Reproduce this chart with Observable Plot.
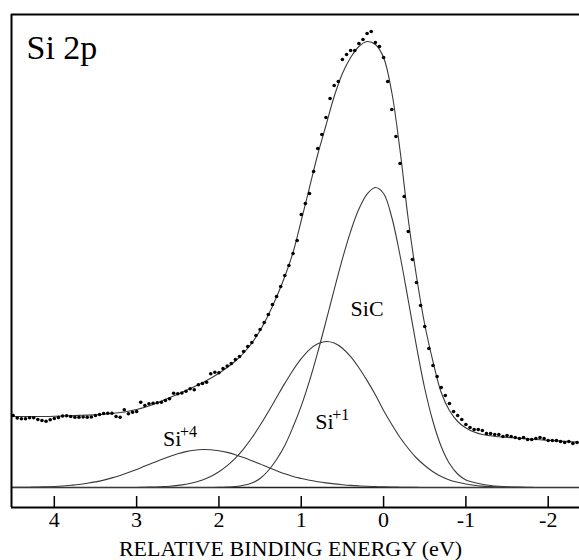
<!DOCTYPE html>
<html><head><meta charset="utf-8">
<script src="https://cdn.jsdelivr.net/npm/d3@7"></script>
<script src="https://cdn.jsdelivr.net/npm/@observablehq/plot@0.6"></script>
<style>
body{margin:0;background:#fff}
#chart svg, #chart svg text { font-family: "Liberation Serif", "Times New Roman", Tinos, "DejaVu Serif", "Noto Serif", Times, serif !important; }
</style>
</head><body><div id="chart"></div>
<script>
// Relative binding energy grid (eV) for the fitted curves
const energy = [4.5,4.4,4.3,4.2,4.1,4.0,3.9,3.8,3.7,3.6,
  3.5,3.4,3.3,3.2,3.1,3.0,2.9,2.8,2.7,2.6,
  2.5,2.4,2.3,2.2,2.1,2.0,1.9,1.8,1.7,1.6,
  1.5,1.4,1.3,1.2,1.1,1.0,0.9,0.8,0.7,0.6,
  0.5,0.4,0.3,0.2,0.1,0.0,-0.1,-0.2,-0.3,-0.4,
  -0.5,-0.6,-0.7,-0.8,-0.9,-1.0,-1.1,-1.2,-1.3,-1.4,
  -1.5,-1.6,-1.7,-1.8,-1.9,-2.0,-2.1,-2.2,-2.3,-2.4];
// Fit envelope (arb. units)
const envelope = [71,71,71,71,71,71.2,71.5,71.8,72.1,72.4,
  72.8,73.3,74,75,76.3,78,80.2,83,86.3,89.8,
  93.3,97,100.8,104.8,109.3,114.3,120,126.5,134.5,144.5,
  157,172.5,190.5,211,235,267,300,333,362,391,
  414,430,441,446,443,430,395,337,268,211,
  163,126,95,77,66,59.5,55.5,53,51.7,50.8,
  50.1,49.5,48.9,48.3,47.7,47.1,46.6,46.1,45.6,45.2];
// Component Si+4
const si4 = [0.1,0.2,0.3,0.4,0.7,1.0,1.5,2.2,3.0,4.2,
  5.6,7.4,9.6,12.1,14.9,18.0,21.4,24.7,28.0,31.1,
  33.8,35.9,37.3,38.0,37.8,36.8,35.1,32.8,29.9,26.7,
  23.4,20.0,16.8,13.7,11.0,9.0,7.2,5.8,4.6,3.6,
  2.8,2.1,1.6,1.2,0.9,0.6,0.4,0.3,0.2,0.1,
  0,0,0,0,0,0,0,0,0,0,
  0,0,0,0,0,0,0,0,0,0];
// Component Si+1
const si1 = [0,0,0,0,0,0,0,0,0,0,
  0,0,0,0,0,0,0.3,0.4,0.8,1.3,
  2.1,3.3,5.0,7.5,11.0,15.7,21.8,29.4,38.7,49.7,
  62.2,75.8,90.0,104.1,117.3,128.8,137.9,143.7,146,144.5,
  139.3,130.9,119.8,106.9,92.8,77,63,50,39,29.5,
  22,15.8,11,7.6,5.2,3.5,2.2,1.4,0.9,0.5,
  0.3,0.2,0.1,0,0,0,0,0,0,0];
// Component SiC
const sic = [0,0,0,0,0,0,0,0,0,0,
  0,0,0,0,0,0,0,0,0,0,
  0,0,0,0,0,0.2,0.5,1.0,2.2,4.5,
  9,17,28,42,60.5,81.6,106.6,135.1,166.1,197.9,
  228.7,256.2,278.5,293.4,300,294,270,232,187,141,
  99,66,41,24,13.5,7.5,5.0,3.3,2.0,1.2,
  0.7,0.4,0.2,0.1,0,0,0,0,0,0];
// Measured data points [energy, intensity]
const measured = [[4.50,72],[4.45,69.5],[4.40,68.7],[4.35,68.7],[4.30,69.7],[4.25,69.7],[4.20,68],[4.15,67],[4.10,66.3],[4.05,67.7],
  [4.00,69],[3.95,70],[3.90,71.5],[3.85,71.8],[3.80,71],[3.75,70.3],[3.70,70.3],[3.65,70.5],[3.60,70.3],[3.55,70.5],
  [3.50,72],[3.45,73],[3.40,74],[3.35,74.3],[3.30,74.3],[3.25,71],[3.20,70.3],[3.15,77.7],[3.10,73.7],[3.05,75.3],
  [3.00,76],[2.95,85.3],[2.90,82],[2.85,83.7],[2.80,84.3],[2.75,84.7],[2.70,85.3],[2.65,87],[2.60,88.7],[2.55,94.3],
  [2.50,93.7],[2.45,94.5],[2.40,96.3],[2.35,98.7],[2.30,97.7],[2.25,102.7],[2.20,104],[2.15,105.3],[2.10,113.7],[2.05,115.3],
  [2.00,114.7],[1.95,119],[1.90,121.5],[1.85,124],[1.80,128],[1.75,131],[1.70,136],[1.65,141],[1.60,145],[1.55,152],
  [1.50,158],[1.45,165],[1.40,173],[1.35,183],[1.30,191],[1.25,201],[1.20,212],[1.15,222],[1.10,234],[1.05,247],
  [1.00,273],[0.95,284],[0.90,294],[0.85,316],[0.80,339],[0.75,353],[0.70,370],[0.65,389],[0.60,402],[0.55,406],
  [0.50,428],[0.45,433],[0.40,437],[0.35,437],[0.30,444],[0.25,448],[0.20,454],[0.15,456],[0.10,445],[0.05,441],
  [0.00,430],[-0.05,406],[-0.10,378],[-0.15,351],[-0.20,324],[-0.25,291],[-0.30,256],[-0.35,228],[-0.40,205],[-0.45,182],
  [-0.50,161],[-0.55,139],[-0.60,122],[-0.65,111],[-0.70,100],[-0.75,92],[-0.80,84],[-0.85,76],[-0.90,72],[-0.95,68],
  [-1.00,63],[-1.05,60],[-1.10,58],[-1.15,58],[-1.20,57],[-1.25,54],[-1.30,54],[-1.35,53],[-1.40,53],[-1.45,51],
  [-1.50,52],[-1.55,51],[-1.60,50],[-1.65,49],[-1.70,50],[-1.75,48],[-1.80,48],[-1.85,49],[-1.90,50],[-1.95,49],
  [-2.00,47],[-2.05,47],[-2.10,47],[-2.15,46],[-2.20,45],[-2.25,46],[-2.30,44],[-2.35,45],[-2.40,46]];
const xTicks = [4,3,2,1,0,-1,-2];
const panelTitle = "Si 2p";
const xLabel = "RELATIVE BINDING ENERGY (eV)";
// Peak labels
const labelBase = ["Si","Si","SiC"];
const labelSup = ["+4","+1",""];
const labelEnergy = [2.68,0.83,0.20];
const labelHeight = [42,58.7,172];
</script>
<script>
const xDomain = [4.52, -2.38];
const yDomain = [-20, 473];
const tickLength = 11;
const ink = "#222";
const curveStroke = "#3a3a3a";
const serif = "Liberation Serif, Tinos, DejaVu Serif, Noto Serif, Times, serif";
const pairs = arr => arr.map((v, i) => ({e: energy[i], v}));
const labels = labelBase.map((b, i) => ({b, s: labelSup[i], e: labelEnergy[i], h: labelHeight[i]}));

const chart = Plot.plot({
  width: 579, height: 560,
  marginLeft: 11, marginRight: 0, marginTop: 14, marginBottom: 53,
  x: {domain: xDomain},
  y: {domain: yDomain, axis: null},
  style: {fontFamily: serif, background: "white", color: "black"},
  marks: [
    Plot.ruleY([0], {stroke: ink, strokeWidth: 1.3}),
    Plot.line(pairs(si4), {x: "e", y: "v", curve: "catmull-rom", stroke: curveStroke, strokeWidth: 1.1}),
    Plot.line(pairs(si1), {x: "e", y: "v", curve: "catmull-rom", stroke: curveStroke, strokeWidth: 1.1}),
    Plot.line(pairs(sic), {x: "e", y: "v", curve: "catmull-rom", stroke: curveStroke, strokeWidth: 1.1}),
    Plot.line(pairs(envelope), {x: "e", y: "v", curve: "catmull-rom", stroke: curveStroke, strokeWidth: 1.1}),
    Plot.dot(measured, {x: d => d[0], y: d => d[1], r: 1.8, fill: "black", stroke: null}),
    Plot.ruleX([xDomain[0]], {stroke: "black", strokeWidth: 2}),
    Plot.ruleY([yDomain[1]], {stroke: "black", strokeWidth: 2}),
    Plot.ruleY([yDomain[0]], {stroke: "black", strokeWidth: 2}),
    Plot.ruleX(xTicks, {x: d => d, y1: yDomain[0], y2: yDomain[0] + tickLength, stroke: "black", strokeWidth: 1.5}),
    Plot.axisX(xTicks, {tickSize: 0, tickPadding: 4, fontSize: 22, fontFamily: serif, label: null, tickFormat: d => String(d)}),
    Plot.text([panelTitle], {frameAnchor: "top-left", dx: 15, dy: 44, lineAnchor: "bottom", textAnchor: "start", fontSize: 34, fontFamily: serif, fill: "black"}),
    Plot.text([xLabel], {frameAnchor: "bottom", dx: -5, dy: 48, lineAnchor: "bottom", fontSize: 22, fontFamily: serif, fill: "black"}),
    Plot.text(labels.filter(d => d.s === ""), {x: "e", y: "h", text: "b", lineAnchor: "bottom", textAnchor: "middle", fontSize: 22, fontFamily: serif, fill: "black"}),
    Plot.text(labels.filter(d => d.s !== ""), {x: "e", y: "h", text: "b", lineAnchor: "bottom", textAnchor: "start", fontSize: 22, fontFamily: serif, fill: "black"}),
    Plot.text(labels.filter(d => d.s !== ""), {x: "e", y: "h", text: "s", dx: 17, dy: -9, lineAnchor: "bottom", textAnchor: "start", fontSize: 16, fontFamily: serif, fill: "black"})
  ]
});
document.getElementById("chart").appendChild(chart);
</script>
</body></html>
